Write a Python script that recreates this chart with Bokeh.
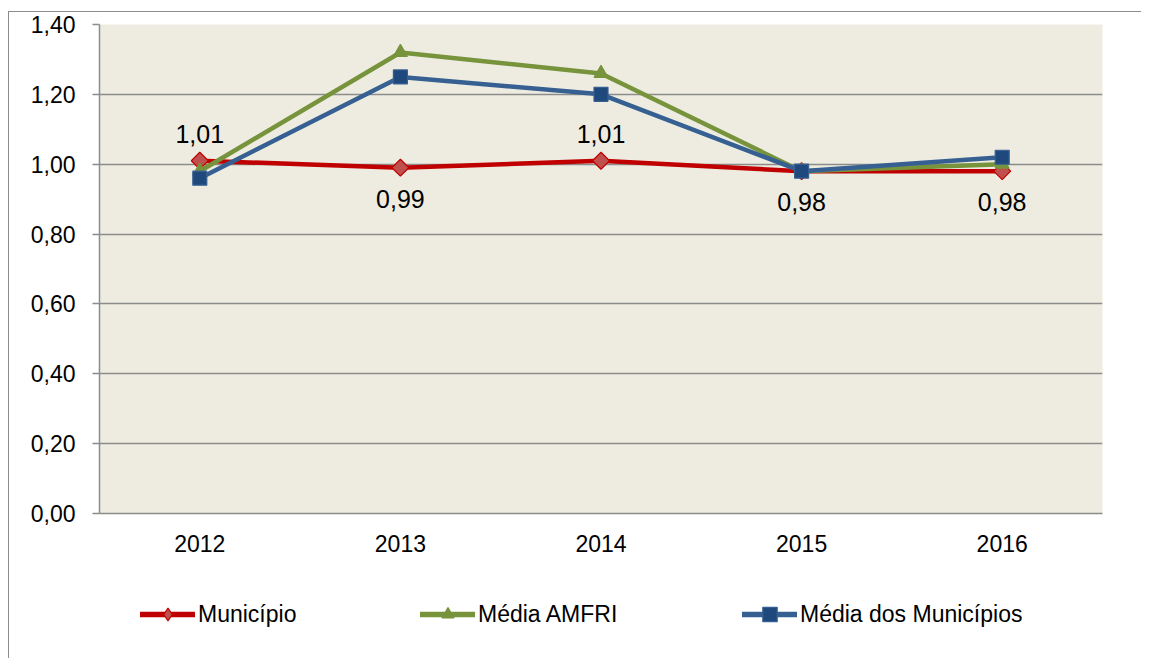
import math
from bokeh.plotting import figure
from bokeh.layouts import column
from bokeh.models import (ColumnDataSource, FixedTicker, LabelSet, Legend,
                          LegendItem, Range1d)
from bokeh.embed import file_html
from bokeh.resources import INLINE
from bokeh.core.properties import value

# ---------------- data ----------------
years = ["2012", "2013", "2014", "2015", "2016"]
municipio = [1.01, 0.99, 1.01, 0.98, 0.98]
media_amfri = [0.98, 1.32, 1.26, 0.98, 1.00]
media_municipios = [0.96, 1.25, 1.20, 0.98, 1.02]
series_names = ["Município", "Média AMFRI", "Média dos Municípios"]
y_ticks = [0.0, 0.2, 0.4, 0.6, 0.8, 1.0, 1.2, 1.4]
y_tick_labels = ["0,00", "0,20", "0,40", "0,60", "0,80", "1,00", "1,20", "1,40"]

# ---------------- styles ----------------
FONT = value("Liberation Sans")
GRID = "#8C8C8C"
RED, RED_FILL = "#C00000", "#C0504D"
GREEN = "#77933C"
BLUE, BLUE_FILL = "#376092", "#1F497D"

W = 1132
H_MAIN, H_LEG = 560, 86

p = figure(x_range=years, y_range=Range1d(0, 1.4), width=W, height=H_MAIN,
           output_backend="svg", toolbar_location=None,
           min_border_left=90, min_border_right=39,
           min_border_top=12, min_border_bottom=59)
p.background_fill_color = "#EEECE1"
p.border_fill_color = "white"
p.outline_line_color = None

# grid
p.xgrid.grid_line_color = None
p.ygrid.grid_line_color = GRID
p.ygrid.grid_line_width = 1.5
p.ygrid.ticker = FixedTicker(ticks=y_ticks)

# y axis
p.yaxis.ticker = FixedTicker(ticks=y_ticks)
p.yaxis.major_label_overrides = dict(zip(y_ticks, y_tick_labels))
p.yaxis.axis_line_color = GRID
p.yaxis.axis_line_width = 1.5
p.yaxis.major_tick_line_color = GRID
p.yaxis.major_tick_line_width = 1.5
p.yaxis.major_tick_out = 7
p.yaxis.major_tick_in = 0
p.yaxis.minor_tick_line_color = None
p.yaxis.major_label_standoff = 17

# x axis
p.xaxis.axis_line_color = GRID
p.xaxis.axis_line_width = 1.5
p.xaxis.major_tick_line_color = None
p.xaxis.major_tick_out = 0
p.xaxis.major_tick_in = 0
p.xaxis.minor_tick_line_color = None
p.xaxis.major_label_standoff = 21

for ax in (p.xaxis[0], p.yaxis[0]):
    ax.major_label_text_font = "Liberation Sans"
    ax.major_label_text_font_size = "23px"
    ax.major_label_text_color = "black"

# series
series = [
    (municipio, RED, "square", math.pi / 4, 12, RED_FILL, RED),
    (media_amfri, GREEN, "triangle", 0, 14, GREEN, GREEN),
    (media_municipios, BLUE, "square", 0, 14, BLUE_FILL, BLUE),
]
line_kw = dict(line_width=4.5, line_cap="round", line_join="round")
for vals, lc, mk, ang, sz, mfill, mline in series:
    p.line(years, vals, line_color=lc, **line_kw)
    p.scatter(years, vals, marker=mk, angle=ang, size=sz,
              fill_color=mfill, line_color=mline, line_width=1.2)

# data labels for Município
label_side = ["above", "below", "above", "below", "below"]
lab_src = ColumnDataSource(dict(
    x=years, y=municipio,
    text=[f"{v:.2f}".replace(".", ",") for v in municipio],
    dy=[27 if s == "above" else -31 for s in label_side],
))
p.add_layout(LabelSet(x="x", y="y", text="text", y_offset="dy", source=lab_src,
                      text_align="center", text_baseline="middle",
                      text_font=FONT, text_font_size="25px", text_color="black"))

# ---------------- legend strip (series drawn out of view; only legend shows) ----------------
pl = figure(width=W, height=H_LEG, x_range=years, y_range=Range1d(10, 11),
            x_axis_type=None, y_axis_type=None, output_backend="svg",
            toolbar_location=None, min_border=0)
pl.outline_line_color = None
pl.background_fill_color = "white"
pl.border_fill_color = "white"
pl.xgrid.grid_line_color = None
pl.ygrid.grid_line_color = None

legend_specs = [
    (series_names[0], municipio, RED, "diamond", RED_FILL, RED, 41, 32),
    (series_names[1], media_amfri, GREEN, "triangle", GREEN, GREEN, 321, 30),
    (series_names[2], media_municipios, BLUE, "square", BLUE_FILL, BLUE, 643, 36),
]
for name, vals, lc, mk, mfill, mline, lx, gh in legend_specs:
    lr = pl.line(years, vals, line_color=lc, line_width=5.5,
                 line_cap="round", line_join="round")
    mr = pl.scatter(years, vals, marker=mk, size=12, fill_color=mfill,
                    line_color=mline, line_width=1.2)
    leg = Legend(items=[LegendItem(label=name, renderers=[lr, mr])],
                 location=(lx, 44 - gh / 2), orientation="horizontal",
                 glyph_width=55, glyph_height=gh, label_height=gh,
                 label_standoff=3, padding=0, margin=0,
                 border_line_color=None, background_fill_alpha=0,
                 label_text_font="Liberation Sans",
                 label_text_font_size="23px", label_text_color="black",
                 label_text_baseline="middle")
    pl.add_layout(leg, "center")

layout = column(p, pl, spacing=0)
layout.styles = {"border-left": "1px solid #8C8C8C",
                 "border-top": "1px solid #8C8C8C",
                 "margin-top": "11px", "margin-left": "8px"}

open("out.html", "w").write(file_html(layout, INLINE))
